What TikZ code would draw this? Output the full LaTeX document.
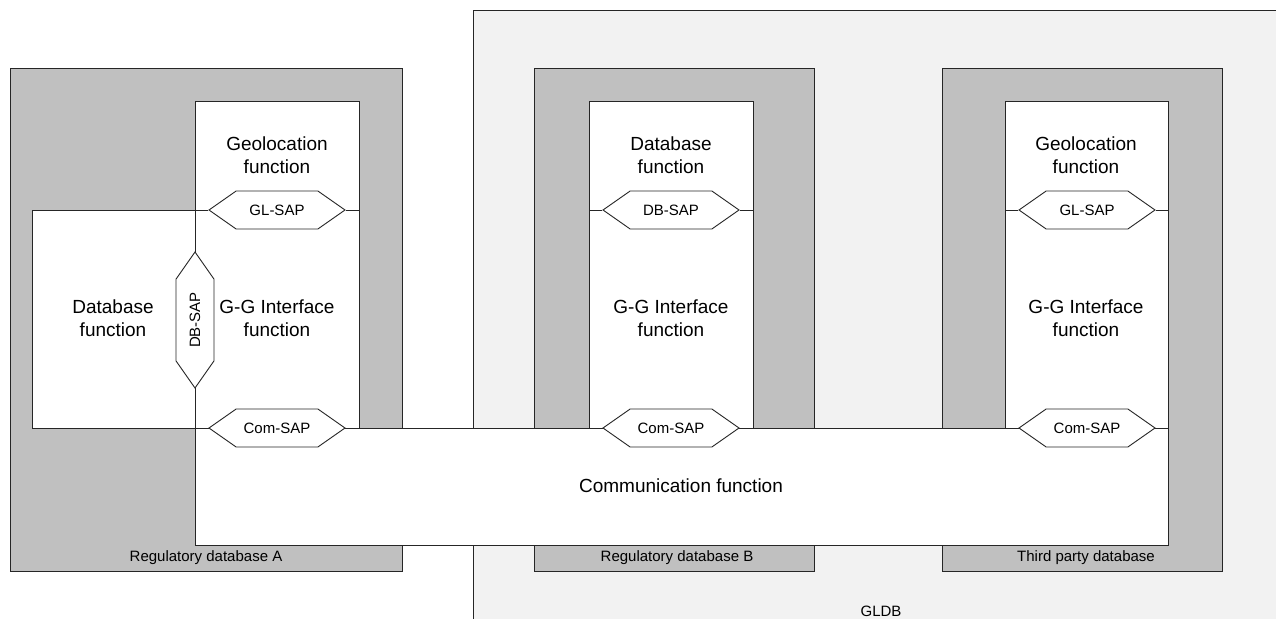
\documentclass[tikz,border=0pt]{standalone}
\usepackage{fontspec}
\setmainfont{Liberation Sans}
\usetikzlibrary{shapes.symbols}
\definecolor{dbgrey}{HTML}{C0C0C0}
\definecolor{gldbgrey}{HTML}{F2F2F2}
\newcommand{\fbig}{\fontsize{19}{23}\selectfont}
\newcommand{\fsmall}{\fontsize{15}{18}\selectfont}

\begin{document}
\begin{tikzpicture}[x=1pt, y=-1pt, line width=0.9pt, draw=black!85,
    dbbox/.style={draw, fill=dbgrey, rectangle, anchor=north west, inner sep=0pt},
    fbox/.style={draw, fill=white, rectangle, anchor=north west, inner sep=0pt},
    sap/.style={draw, fill=white, signal, signal to=east and west, signal pointer angle=70,
        minimum width=136pt, minimum height=38pt, inner sep=0pt, font=\fsmall},
    txt/.style={align=center, font=\fbig, inner sep=0pt},
    lbl/.style={font=\fsmall, inner sep=0pt}]
    \useasboundingbox (0,0) rectangle (1276,618);
    \clip (0,0) rectangle (1276,618);

    % GLDB
    \node[fbox, fill=gldbgrey, minimum width=840pt, minimum height=640pt] (gldb) at (473,10) {};
    \node[lbl] (gldb-lbl) at (881,611) {GLDB};

    % Regulatory databases
    \node[dbbox, minimum width=392pt, minimum height=503pt] (rdb-A) at (10,68) {};
    \node[dbbox, minimum width=280pt, minimum height=503pt] (rdb-B) at (534,68) {};
    \node[dbbox, minimum width=280pt, minimum height=503pt] (rdb-C) at (942,68) {};

    % Function boxes
    \node[fbox, minimum width=163pt, minimum height=218pt] (dbf-A) at (32,210) {};
    \node[fbox, minimum width=164pt, minimum height=327pt] (gg-A) at (195,101) {};
    \node[fbox, minimum width=164pt, minimum height=327pt] (gg-B) at (589,101) {};
    \node[fbox, minimum width=163pt, minimum height=327pt] (gg-C) at (1005,101) {};
    \node[fbox, minimum width=973pt, minimum height=117pt] (com) at (195,428) {};

    % Texts
    \node[txt] (geo-A) at (277,155) {Geolocation\\function};
    \node[txt] (db-A) at (113,318) {Database\\function};
    \node[txt] (ggt-A) at (277,318) {G-G Interface\\function};
    \node[txt] (db-B) at (671,155) {Database\\function};
    \node[txt] (ggt-B) at (671,318) {G-G Interface\\function};
    \node[txt] (geo-C) at (1086,155) {Geolocation\\function};
    \node[txt] (ggt-C) at (1086,318) {G-G Interface\\function};
    \node[txt] (com-t) at (681,486) {Communication function};

    \node[lbl] (rdb-A-lbl) at (206,558) {Regulatory database A};
    \node[lbl] (rdb-B-lbl) at (677,558) {Regulatory database B};
    \node[lbl] (rdb-C-lbl) at (1086,558) {Third party database};

    % Service access points
    \node[sap] (glsap-A) at (277,210) {GL-SAP};
    \node[sap, rotate=90] (dbsap-A) at (195,320) {DB-SAP};
    \node[sap] (comsap-A) at (277,428) {Com-SAP};
    \node[sap] (dbsap-B) at (671,210) {DB-SAP};
    \node[sap] (comsap-B) at (671,428) {Com-SAP};
    \node[sap] (glsap-C) at (1087,210) {GL-SAP};
    \node[sap] (comsap-C) at (1087,428) {Com-SAP};

    \draw (dbf-A.north east) -- (glsap-A.west);
    \draw (glsap-A.east) -- (gg-A.east |- glsap-A);
    \draw (gg-B.west |- dbsap-B) -- (dbsap-B.west);
    \draw (dbsap-B.east) -- (gg-B.east |- dbsap-B);
    \draw (gg-C.west |- glsap-C) -- (glsap-C.west);
    \draw (glsap-C.east) -- (gg-C.east |- glsap-C);

\end{tikzpicture}
\end{document}
